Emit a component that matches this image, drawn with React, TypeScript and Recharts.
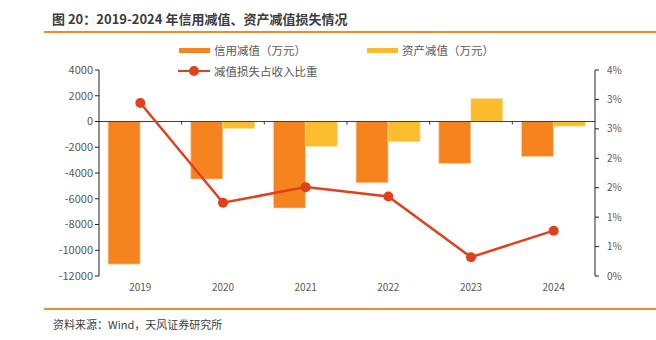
import {
  Bar,
  ComposedChart,
  Line,
  ReferenceLine,
  XAxis,
  YAxis,
} from "recharts";

const years = ["2019", "2020", "2021", "2022", "2023", "2024"];
const creditLoss = [-11080, -4470, -6720, -4760, -3260, -2720];
const assetLoss = [-30, -540, -1940, -1580, 1790, -360];
const lossRatio = [0.0294, 0.01245, 0.0151, 0.0135, 0.0032, 0.0077];
const leftTicks = [-12000, -10000, -8000, -6000, -4000, -2000, 0, 2000, 4000];
const rightTicks = [0, 0.005, 0.01, 0.015, 0.02, 0.025, 0.03, 0.035];

const ORANGE = "#F5841F";
const YELLOW = "#FBBC2D";
const RED = "#E0401C";
const AXIS_TEXT = "#595959";
const FONT = "'Noto Sans CJK SC', 'Noto Sans', sans-serif";

const rows = years.map((y, i) => ({
  year: y,
  credit: creditLoss[i],
  asset: assetLoss[i],
  ratio: lossRatio[i],
}));

// zero line with small tick marks at the category boundaries
function ZeroLine(props: any) {
  const { x1, x2, y1 } = props;
  const step = (x2 - x1) / years.length;
  const marks = [];
  for (let i = 1; i < years.length; i++) {
    const x = x1 + step * i;
    marks.push(
      <line key={i} x1={x} x2={x} y1={y1} y2={y1 + 3} stroke="#333" strokeWidth={1} />
    );
  }
  return (
    <g>
      <line x1={x1} x2={x2} y1={y1} y2={y1} stroke="#404040" strokeWidth={1.2} />
      {marks}
    </g>
  );
}

export default function App() {
  return (
    <div
      style={{
        position: "relative",
        width: 656,
        height: 340,
        background: "#fff",
        fontFamily: FONT,
        overflow: "hidden",
      }}
    >
      <style>{"body{margin:0}"}</style>
      <div
        style={{
          position: "absolute",
          left: 52,
          top: 9,
          fontSize: 13,
          fontWeight: 700,
          color: "#3c3c3c",
          whiteSpace: "nowrap",
        }}
      >
        图 20：2019-2024 年信用减值、资产减值损失情况
      </div>
      <div
        style={{
          position: "absolute",
          left: 44,
          right: 0,
          top: 31,
          height: 2,
          background: "#F08A2A",
        }}
      />

      {/* legend */}
      <div style={{ position: "absolute", left: 179, top: 48, width: 31, height: 5, background: ORANGE }} />
      <div style={{ position: "absolute", left: 214, top: 42, fontSize: 11.5, color: AXIS_TEXT, whiteSpace: "nowrap" }}>
        信用减值（万元）
      </div>
      <div style={{ position: "absolute", left: 367, top: 48, width: 31, height: 5, background: YELLOW }} />
      <div style={{ position: "absolute", left: 402, top: 42, fontSize: 11.5, color: AXIS_TEXT, whiteSpace: "nowrap" }}>
        资产减值（万元）
      </div>
      <div style={{ position: "absolute", left: 178, top: 70, width: 32, height: 2, background: RED }} />
      <div
        style={{
          position: "absolute",
          left: 189,
          top: 66,
          width: 10,
          height: 10,
          borderRadius: 5,
          background: RED,
        }}
      />
      <div style={{ position: "absolute", left: 214, top: 63, fontSize: 11.5, color: AXIS_TEXT, whiteSpace: "nowrap" }}>
        减值损失占收入比重
      </div>

      <div style={{ position: "absolute", left: 0, top: 0 }}>
        <ComposedChart
          width={656}
          height={340}
          data={rows}
          margin={{ top: 70, right: 0, left: 39, bottom: 34 }}
          barCategoryGap="11%"
          barGap={0}
        >
          <XAxis
            dataKey="year"
            axisLine={false}
            tickLine={false}
            height={30}
            tick={{ fontSize: 10, fill: AXIS_TEXT, fontFamily: FONT }}
          />
          <YAxis
            yAxisId="left"
            domain={[-12000, 4000]}
            ticks={leftTicks}
            interval={0}
            width={60}
            axisLine={{ stroke: "#222" }}
            tickLine={{ stroke: "#222" }}
            tickSize={4}
            tick={{ fontSize: 11, fill: AXIS_TEXT, fontFamily: FONT }}
          />
          <YAxis
            yAxisId="right"
            orientation="right"
            domain={[0, 0.035]}
            ticks={rightTicks}
            interval={0}
            width={61}
            axisLine={{ stroke: "#222" }}
            tickLine={{ stroke: "#222" }}
            tickSize={4}
            tickMargin={8}
            tickFormatter={(v) => `${Math.round(Number(v) * 100)}%`}
            tick={{ fontSize: 10, fill: AXIS_TEXT, fontFamily: FONT }}
          />
          <Bar
            yAxisId="left"
            dataKey="credit"
            fill={ORANGE}
            stroke="#FCD9B4"
            strokeWidth={0.6}
            isAnimationActive={false}
          />
          <Bar
            yAxisId="left"
            dataKey="asset"
            fill={YELLOW}
            stroke="#FEE6B0"
            strokeWidth={0.6}
            isAnimationActive={false}
          />
          <ReferenceLine yAxisId="left" y={0} shape={ZeroLine} />
          <Line
            yAxisId="right"
            dataKey="ratio"
            stroke={RED}
            strokeWidth={2.5}
            dot={{ r: 5, fill: RED, stroke: RED, strokeWidth: 0 }}
            isAnimationActive={false}
          />
        </ComposedChart>
      </div>

      <div
        style={{
          position: "absolute",
          left: 44,
          right: 0,
          top: 308,
          height: 1.5,
          background: "#F08A2A",
        }}
      />
      <div
        style={{
          position: "absolute",
          left: 53,
          top: 316,
          fontSize: 11,
          color: "#404040",
          whiteSpace: "nowrap",
        }}
      >
        资料来源：Wind，天风证券研究所
      </div>
    </div>
  );
}
